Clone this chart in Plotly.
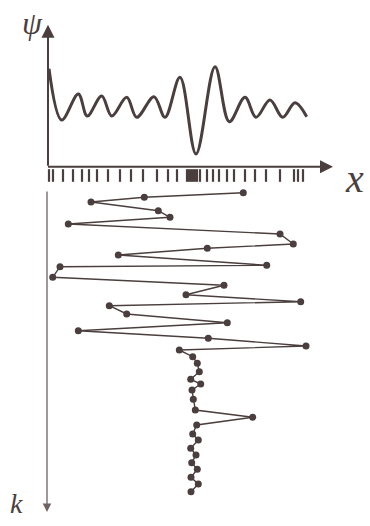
import plotly.graph_objects as go

# ---- data ----
# top panel: wave function psi(x) (extrema and end points)
wave_x = [0.1, 1.37, 3.03, 3.93, 5.37, 6.37, 7.87, 8.87, 10.6, 11.7, 13.2, 14.8,
          16.7, 18.13, 19.7, 20.8, 22.2, 23.47, 24.7, 25.87]
wave_psi = [9.8, 4.67, 7.27, 5.07, 7.07, 5.07, 6.94, 4.94, 7.0, 4.94, 8.94, 1.27,
            10.0, 4.5, 6.94, 4.94, 6.67, 4.94, 6.4, 5.0]

# tick marks along the x axis (state centres)
tick_x = [0.1, 0.5, 1.5, 2.5, 3.4, 4.1, 4.9, 6.0, 7.2, 8.3, 9.5, 10.9, 12.0, 12.9,
          13.9, 14.1, 14.3, 14.5, 14.7, 14.9, 15.2, 15.9, 16.5, 17.1, 17.9, 18.6,
          19.7, 20.7, 21.8, 23.2, 24.6, 25.0, 25.5]

# bottom panel: centre position x of state vs k
path_x = [19.53, 9.63, 4.3, 11.03, 12.2, 2.03, 23.2, 24.53, 15.93, 7.03, 21.87, 1.2,
          0.47, 17.6, 13.8, 25.27, 6.13, 7.87, 17.93, 3.03, 16.03, 25.8, 13.13, 14.47,
          14.93, 15.13, 14.27, 15.27, 14.4, 14.53, 14.73, 20.47, 14.87, 14.47, 15.03,
          14.27, 14.8, 14.37, 14.93, 14.3, 15.03, 14.3]
path_k = [0.77, 1.23, 1.7, 2.57, 3.23, 3.9, 4.9, 5.9, 6.33, 7.0, 8.03, 8.17,
          9.23, 10.03, 10.97, 11.67, 12.07, 12.9, 13.77, 14.57, 15.33, 16.1, 16.5, 17.17,
          17.83, 18.67, 19.43, 19.9, 20.5, 21.43, 22.5, 23.23, 24.0, 24.9, 25.5,
          26.33, 27.0, 27.77, 28.43, 29.23, 29.9, 30.67]

INK = "#4a3e3e"

fig = go.Figure()

fig.add_trace(go.Scatter(
    x=wave_x, y=wave_psi, mode="lines",
    line=dict(color=INK, width=3, shape="spline", smoothing=1.0),
    hoverinfo="skip", showlegend=False, yaxis="y"))

fig.add_trace(go.Scatter(
    x=tick_x, y=[-0.88] * len(tick_x), mode="markers",
    marker=dict(symbol="line-ns-open", size=9, color=INK,
                line=dict(color=INK, width=2.2)),
    hoverinfo="skip", showlegend=False, yaxis="y"))

fig.add_trace(go.Scatter(
    x=path_x, y=path_k, mode="lines+markers",
    line=dict(color=INK, width=1.4),
    marker=dict(color=INK, size=7),
    hoverinfo="skip", showlegend=False, yaxis="y2"))

arrow = dict(showarrow=True, arrowhead=2, arrowsize=1.3, arrowwidth=2,
             arrowcolor=INK, text="")
fig.add_annotation(x=0, y=14.2, ax=0, ay=-0.05, xref="x", yref="y",
                   axref="x", ayref="y", **arrow)
fig.add_annotation(x=28.5, y=0, ax=-0.15, ay=0, xref="x", yref="y",
                   axref="x", ayref="y", **arrow)
fig.add_annotation(x=-0.1, y=32.7, ax=-0.1, ay=0.5, xref="x", yref="y2",
                   axref="x", ayref="y2",
                   **{**arrow, "arrowwidth": 1.3, "arrowcolor": "#6e6262"})

lab = dict(family="Liberation Serif", color=INK)
fig.add_annotation(x=-1.6, y=14.4, xref="x", yref="y", text="<i>ψ</i>",
                   showarrow=False, font=dict(size=32, **lab))
fig.add_annotation(x=30.6, y=-1.2, xref="x", yref="y", text="<i>x</i>",
                   showarrow=False, font=dict(size=40, **lab))
fig.add_annotation(x=-3.2, y=31.8, xref="x", yref="y2", text="<i>k</i>",
                   showarrow=False, font=dict(size=28, **lab))

hidden = dict(showgrid=False, zeroline=False, showline=False, showticklabels=False,
              ticks="", fixedrange=True)
fig.update_layout(
    width=370, height=526, autosize=False,
    margin=dict(l=0, r=0, t=0, b=0),
    paper_bgcolor="white", plot_bgcolor="white",
    xaxis=dict(range=[-4.8, 32.2], **hidden),
    yaxis=dict(range=[-35.93, 16.67], domain=[0, 1], **hidden),
    yaxis2=dict(range=[34.1, -18.5], overlaying="y", domain=[0, 1], **hidden),
)

fig.write_html("out.html", config={"displayModeBar": False},
               post_script="document.body.style.margin='0';"
                           "document.body.style.overflow='hidden';")
